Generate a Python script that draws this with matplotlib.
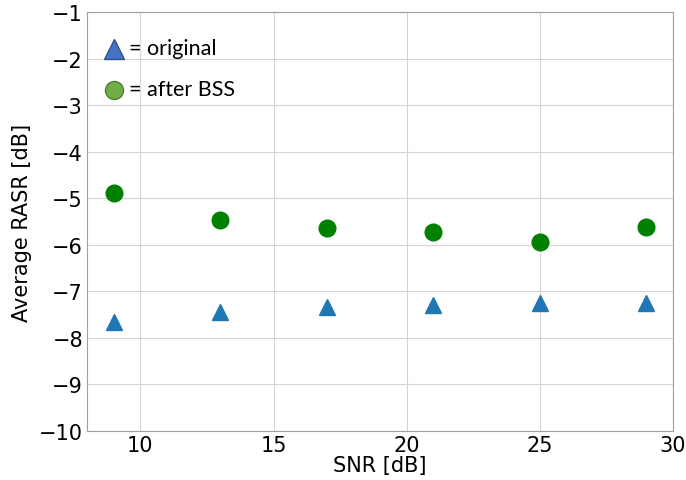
import matplotlib.pyplot as plt

# data
snr = [9, 13, 17, 21, 25, 29]
rasrOriginal = [-7.67, -7.44, -7.33, -7.29, -7.25, -7.25]
rasrAfterBss = [-4.88, -5.46, -5.64, -5.73, -5.94, -5.62]

fig = plt.figure(figsize=(6.86, 4.81), dpi=100)
ax = fig.add_axes([0.127, 0.102, 0.854, 0.871])

ax.plot(snr, rasrOriginal, '^', color='#1f77b4', markersize=11, zorder=3)
ax.plot(snr, rasrAfterBss, 'o', color='green', markersize=12, zorder=3)

ax.set_xlim(8, 30)
ax.set_ylim(-10, -1)
ax.set_xticks([10, 15, 20, 25, 30])
ax.set_yticks(range(-10, 0))
ax.tick_params(labelsize=15, length=0, pad=3)
ax.grid(True, color='#d4d4d4', linewidth=0.8)
ax.set_axisbelow(True)
for s in ax.spines.values():
    s.set_color('#a0a0a0')

ax.set_xlabel('SNR [dB]', fontsize=15, labelpad=0)
ax.set_ylabel('Average RASR [dB]', fontsize=15, labelpad=5)

# hand-made legend like the original
ax.plot([0.046], [0.912], '^', transform=ax.transAxes, color='#4472c4',
        markeredgecolor='#2f528f', markersize=14, clip_on=False, zorder=4)
ax.plot([0.046], [0.814], 'o', transform=ax.transAxes, color='#70ad47',
        markeredgecolor='#507e32', markersize=13, clip_on=False, zorder=4)
ax.text(0.072, 0.914, '= original', transform=ax.transAxes, va='center',
        family='Lato', fontsize=15.5)
ax.text(0.072, 0.816, '= after BSS', transform=ax.transAxes, va='center',
        family='Lato', fontsize=15.5)

fig.savefig('out.png', dpi=100)
